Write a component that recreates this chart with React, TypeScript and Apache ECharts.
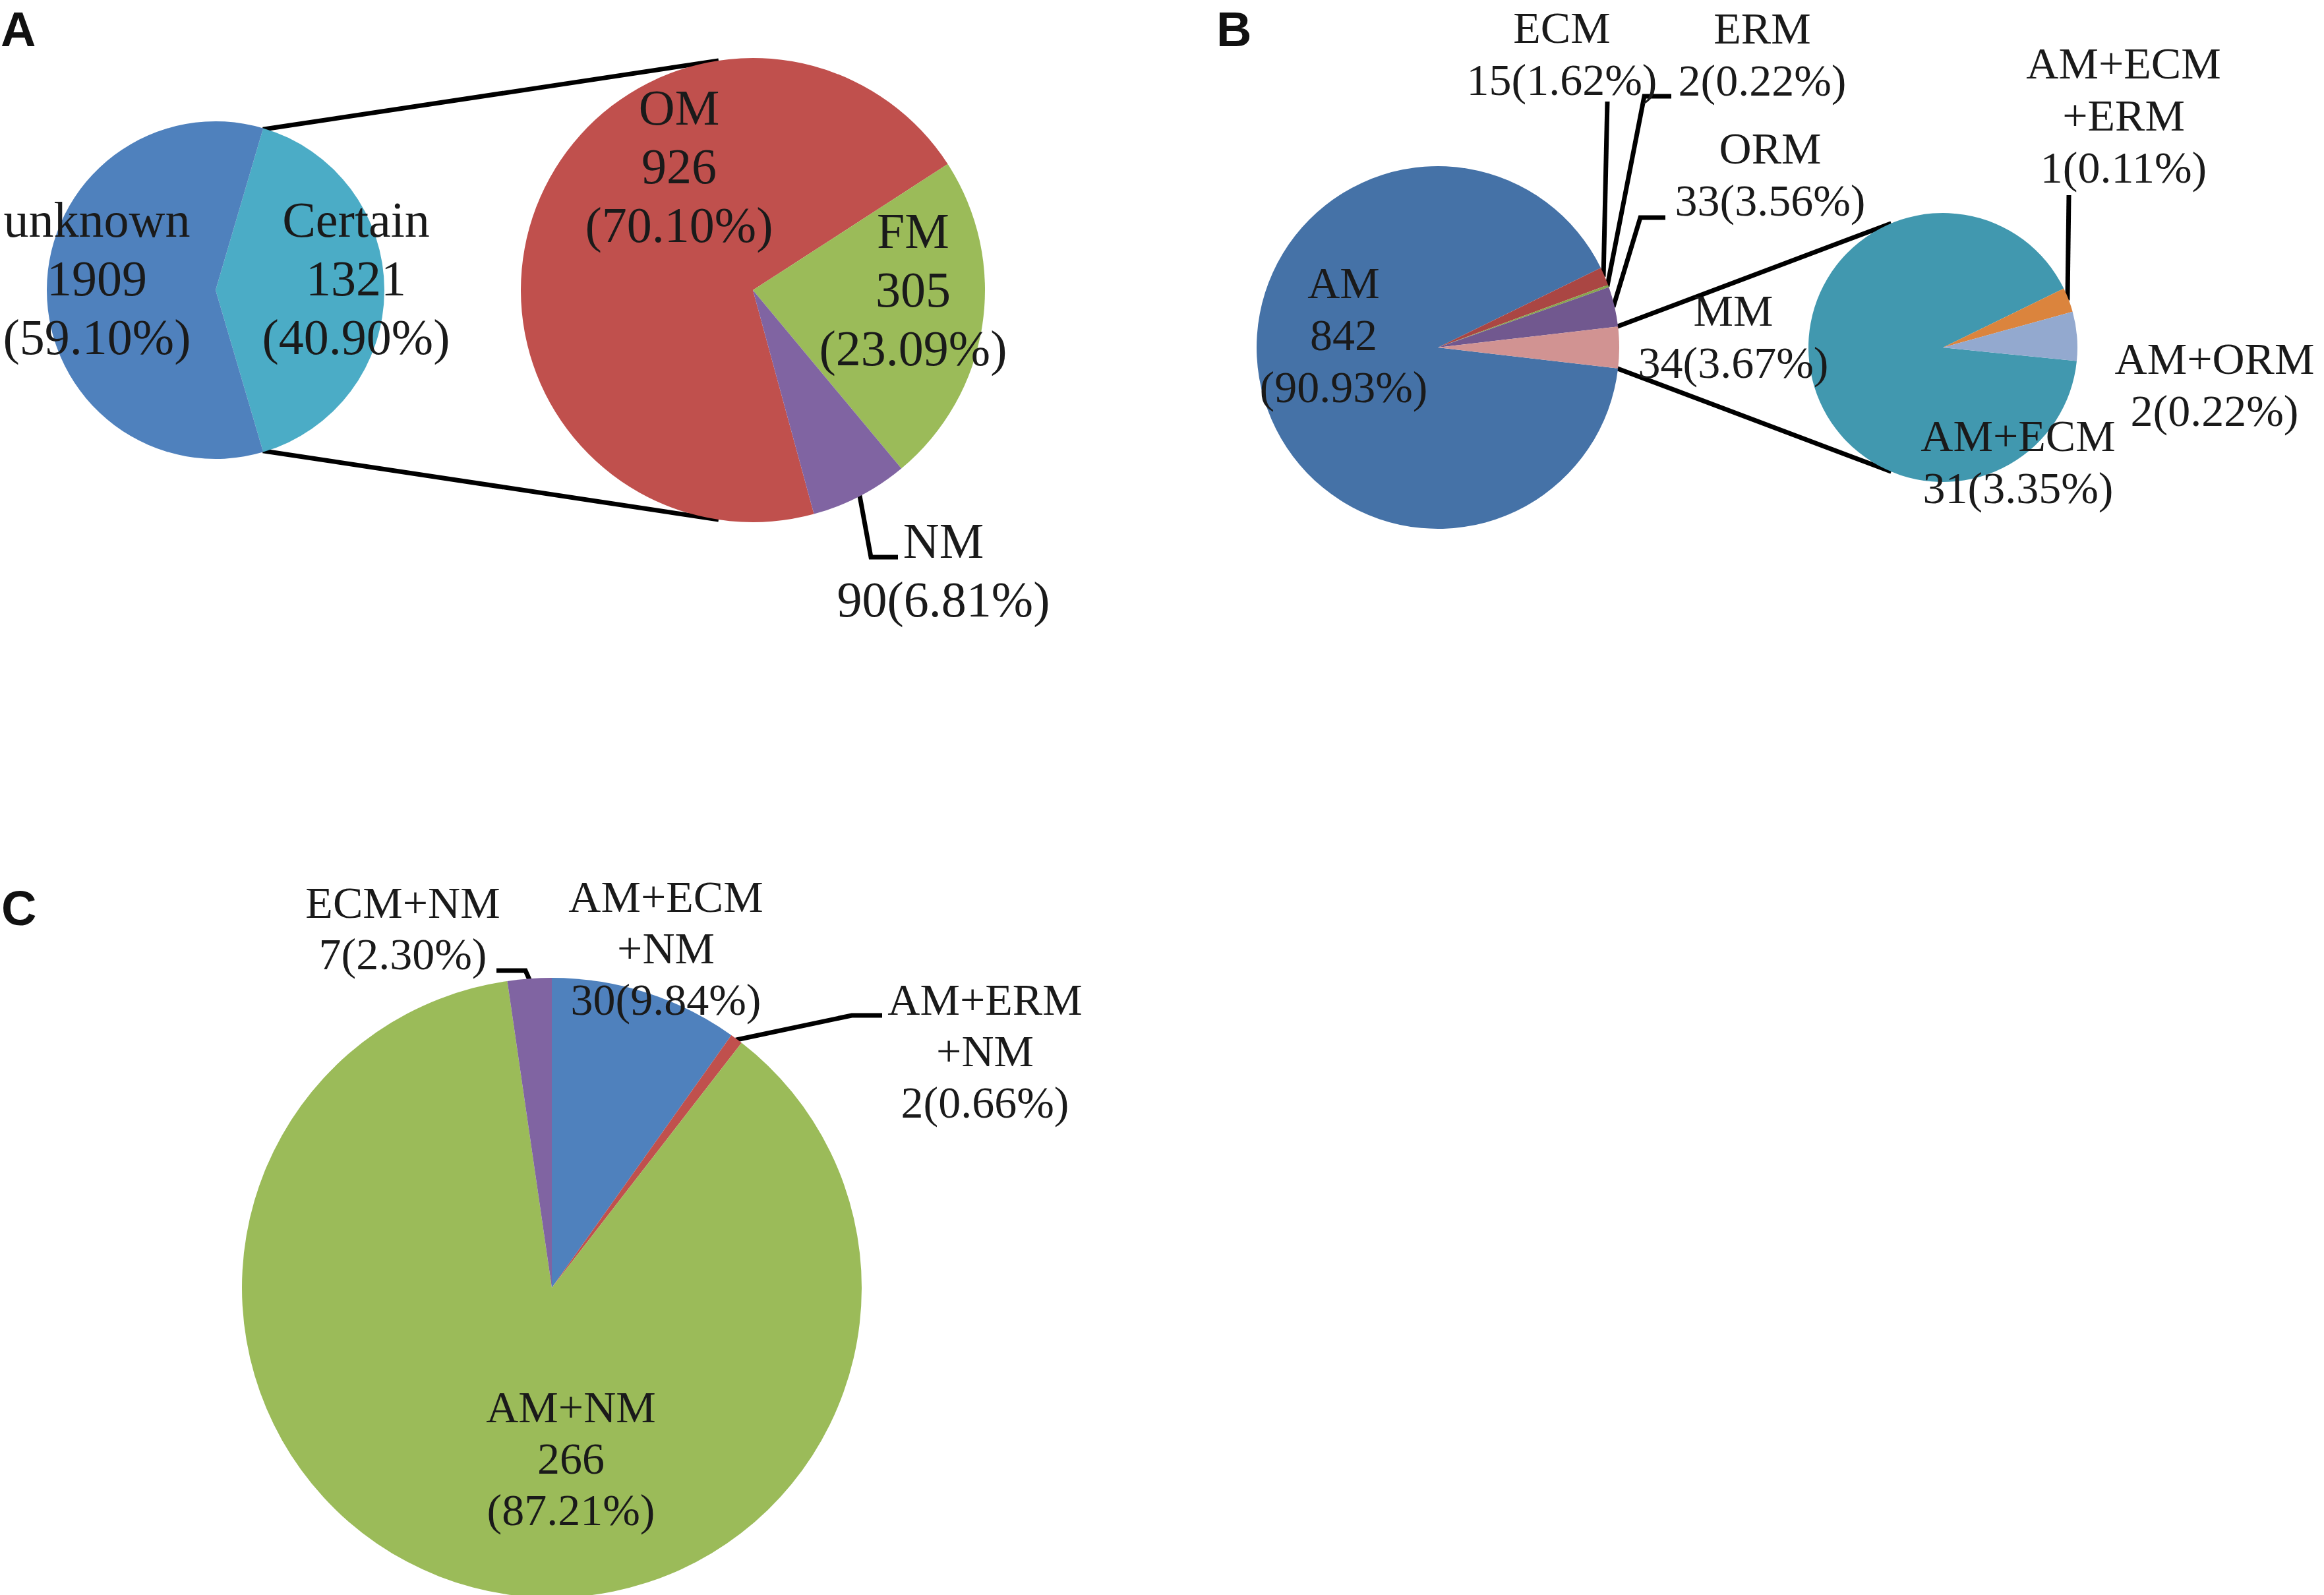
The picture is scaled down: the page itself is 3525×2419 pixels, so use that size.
import React, { useEffect, useRef } from 'react';
import * as echarts from 'echarts';

// ---------------- data ----------------
// Panel A (primary pie and its split-out "Certain" pie)
const A1_NAMES = ['Certain', 'unknown'];
const A1_VALUES = [1321, 1909];
const A2_NAMES = ['OM', 'FM', 'NM'];
const A2_VALUES = [926, 305, 90];
// Panel B (primary pie and the split-out "MM" pie)
const B1_NAMES = ['AM', 'ECM', 'ERM', 'ORM', 'MM'];
const B1_VALUES = [842, 15, 2, 33, 34];
const B2_NAMES = ['AM+ECM', 'AM+ECM+ERM', 'AM+ORM'];
const B2_VALUES = [31, 1, 2];
// Panel C
const C_NAMES = ['AM+ECM+NM', 'AM+ERM+NM', 'AM+NM', 'ECM+NM'];
const C_VALUES = [30, 2, 266, 7];
const PANEL_LETTERS = ['A', 'B', 'C'];

// ---------------- styles / layout ----------------
const W = 3525;
const H = 2419;
const TEXT = '#1a1a1a';
const SERIF = 'Liberation Serif';
const LINE_W = 7;

const A1_COLORS = ['#4BACC6', '#4F81BD'];
const A2_COLORS = ['#C0504D', '#9BBB59', '#8064A2'];
const B1_COLORS = ['#4572A7', '#AA4643', '#89A54E', '#71588F', '#D19392'];
const B2_COLORS = ['#4198AF', '#DB843D', '#93A9CF'];
const C_COLORS = ['#4F81BD', '#C0504D', '#9BBB59', '#8064A2'];

const sum = (a: number[]) => a.reduce((s, v) => s + v, 0);
const angleOf = (values: number[], i: number) => (values[i] / sum(values)) * 360;

type Pt = [number, number];

function midAngle(values: number[], startAngle: number, i: number) {
  const total = sum(values);
  let before = 0;
  for (let k = 0; k < i; k++) before += values[k];
  return startAngle - ((before + values[i] / 2) / total) * 360;
}
function polar(c: Pt, r: number, deg: number): Pt {
  const a = (deg * Math.PI) / 180;
  return [c[0] + r * Math.cos(a), c[1] - r * Math.sin(a)];
}
function splitName(n: string) {
  const p = n.split('+');
  return p.length === 3 ? `${p[0]}+${p[1]}\n+${p[2]}` : n;
}
function labelText(name: string, value: number, base: number) {
  const pctNum = (value / base) * 100;
  const pct = pctNum.toFixed(2);
  return pctNum >= 20
    ? `${splitName(name)}\n${value}\n(${pct}%)`
    : `${splitName(name)}\n${value}(${pct}%)`;
}

interface PieSpec {
  id: string;
  names: string[];
  values: number[];
  base: number;
  colors: string[];
  center: Pt;
  radius: number;
  startAngle: number;
  fontSize: number;
  lineHeight: number;
  labelPos: Pt[];
  leaders: (Pt[] | null)[];
}

// geometry
const A1_C: Pt = [327, 440];
const A1_R = 256;
const A2_C: Pt = [1142, 440];
const A2_R = 352;
const A2_FM_START = 32.9;
const A2_LINK_ANGLE = 98.5;

const B1_C: Pt = [2181, 527];
const B1_R = 275;
const B2_C: Pt = [2947, 527];
const B2_R = 204;
const B2_SMALL_START = 26;
const B2_LINK_ANGLE = 112.6;

const C_C: Pt = [837, 1953];
const C_R = 470;

const A1_START = angleOf(A1_VALUES, 0) / 2;
const A2_START = A2_FM_START + angleOf(A2_VALUES, 0);
const B1_START = 360 - angleOf(B1_VALUES, 4) / 2;
const B2_START = B2_SMALL_START + angleOf(B2_VALUES, 0);

const SPECS: PieSpec[] = [
  {
    id: 'a1', names: A1_NAMES, values: A1_VALUES, base: sum(A1_VALUES), colors: A1_COLORS,
    center: A1_C, radius: A1_R, startAngle: A1_START, fontSize: 76, lineHeight: 89,
    labelPos: [[540, 422], [147, 422]], leaders: [null, null],
  },
  {
    id: 'a2', names: A2_NAMES, values: A2_VALUES, base: A1_VALUES[0], colors: A2_COLORS,
    center: A2_C, radius: A2_R, startAngle: A2_START, fontSize: 76, lineHeight: 89,
    labelPos: [[1030, 252], [1385, 439], [1431, 864]],
    leaders: [null, null, [[1321, 845], [1362, 845]]],
  },
  {
    id: 'b1', names: B1_NAMES, values: B1_VALUES, base: sum(B1_VALUES), colors: B1_COLORS,
    center: B1_C, radius: B1_R, startAngle: B1_START, fontSize: 68, lineHeight: 79,
    labelPos: [[2038, 508], [2369, 81], [2673, 82], [2685, 264], [2629, 510]],
    leaders: [null, [[2438, 154]], [[2494, 146], [2535, 146]], [[2488, 330], [2526, 330]], null],
  },
  {
    id: 'b2', names: B2_NAMES, values: B2_VALUES, base: sum(B1_VALUES), colors: B2_COLORS,
    center: B2_C, radius: B2_R, startAngle: B2_START, fontSize: 68, lineHeight: 79,
    labelPos: [[3061, 700], [3221, 175], [3359, 583]],
    leaders: [null, [[3138, 296]], null],
  },
  {
    id: 'c', names: C_NAMES, values: C_VALUES, base: sum(C_VALUES), colors: C_COLORS,
    center: C_C, radius: C_R, startAngle: 90, fontSize: 68, lineHeight: 78,
    labelPos: [[1010, 1438], [1494, 1594], [866, 2212], [611, 1408]],
    leaders: [null, [[1292, 1540], [1338, 1540]], null, [[797, 1472], [753, 1472]]],
  },
];

function buildSeries(s: PieSpec) {
  return {
    type: 'pie',
    id: s.id,
    center: s.center,
    radius: s.radius,
    startAngle: s.startAngle,
    clockwise: true,
    avoidLabelOverlap: false,
    silent: true,
    animation: false,
    itemStyle: { borderWidth: 0 },
    emphasis: { disabled: true },
    label: {
      show: true,
      color: TEXT,
      fontFamily: SERIF,
      fontSize: s.fontSize,
      lineHeight: s.lineHeight,
      align: 'center',
      overflow: 'none',
      formatter: (p: any) => labelText(p.name, p.value, s.base),
    },
    labelLine: { lineStyle: { color: '#000', width: LINE_W }, length: 10, length2: 10, smooth: false },
    labelLayout: (p: any) => {
      const i = p.dataIndex;
      const [x, y] = s.labelPos[i];
      const res: any = { x, y, align: 'center', verticalAlign: 'middle' };
      const leader = s.leaders[i];
      if (leader) {
        const edge = polar(s.center, s.radius - 2, midAngle(s.values, s.startAngle, i));
        res.labelLinePoints = [edge, ...leader];
      }
      return res;
    },
    data: s.names.map((n, i) => ({
      name: n,
      value: s.values[i],
      itemStyle: { color: s.colors[i] },
      label: { position: s.leaders[i] ? 'outside' : 'inside' },
      labelLine: { show: !!s.leaders[i] },
    })),
  };
}

function linkLines(c1: Pt, r1: number, half: number, c2: Pt, r2: number, linkAngle: number) {
  const out: any[] = [];
  [1, -1].forEach((sgn) => {
    const p1 = polar(c1, r1 - 2, sgn * half);
    const p2 = polar(c2, r2, sgn * linkAngle);
    out.push({
      type: 'line',
      silent: true,
      shape: { x1: p1[0], y1: p1[1], x2: p2[0], y2: p2[1] },
      style: { stroke: '#000', lineWidth: LINE_W },
    });
  });
  return out;
}

const LETTER_POS: Pt[] = [[1, 44], [1845, 44], [2, 1377]];

export default function App() {
  const ref = useRef<HTMLDivElement>(null);
  useEffect(() => {
    if (!ref.current) return;
    const chart = echarts.init(ref.current, null, { renderer: 'svg', width: W, height: H });
    const graphics: any[] = [
      ...linkLines(A1_C, A1_R, A1_START, A2_C, A2_R, A2_LINK_ANGLE),
      ...linkLines(B1_C, B1_R, angleOf(B1_VALUES, 4) / 2, B2_C, B2_R, B2_LINK_ANGLE),
      ...PANEL_LETTERS.map((t, i) => ({
        type: 'text',
        silent: true,
        x: LETTER_POS[i][0],
        y: LETTER_POS[i][1],
        style: {
          text: t,
          fill: '#111',
          font: 'bold 74px "Liberation Sans", Arial, sans-serif',
          textAlign: 'left',
          textVerticalAlign: 'middle',
        },
      })),
    ];
    chart.setOption({
      animation: false,
      backgroundColor: '#ffffff',
      series: SPECS.map(buildSeries),
      graphic: graphics,
    });
    return () => chart.dispose();
  }, []);
  return (
    <div
      ref={ref}
      style={{ position: 'fixed', left: 0, top: 0, width: W, height: H, background: '#fff' }}
    />
  );
}
